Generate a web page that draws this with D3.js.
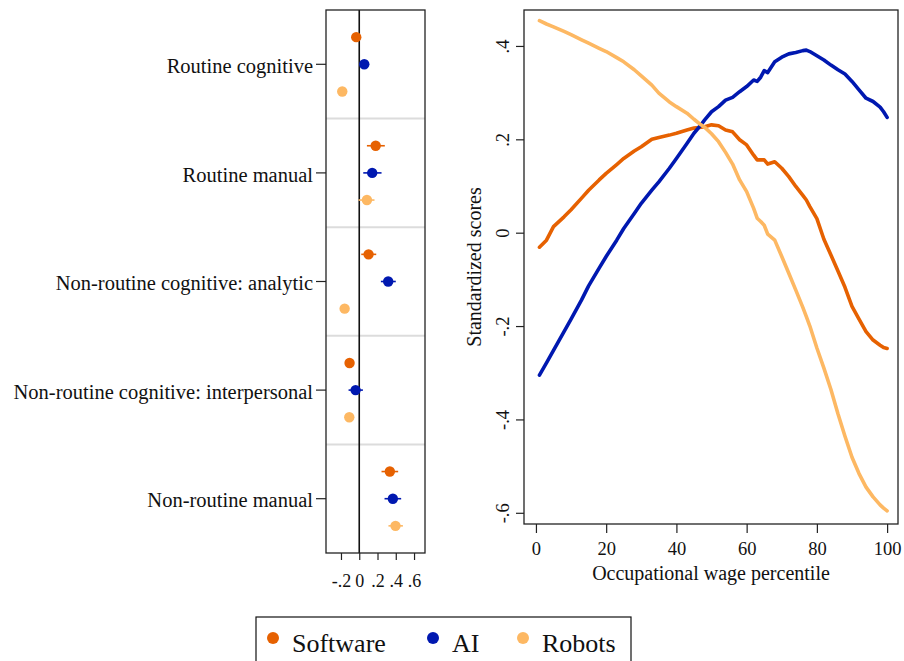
<!DOCTYPE html>
<html>
<head>
<meta charset="utf-8">
<script src="https://cdn.jsdelivr.net/npm/d3@7"></script>
<style>
  body { margin: 0; background: #fff; }
  svg text { font-family: "Liberation Serif", "Times New Roman", serif; fill: #111; }
</style>
</head>
<body>
<script>
// task categories (left panel)
var categories = ["Routine cognitive", "Routine manual", "Non-routine cognitive: analytic",
                  "Non-routine cognitive: interpersonal", "Non-routine manual"];
var seriesNames = ["Software", "AI", "Robots"];
var colors = ["#e66101", "#0018b0", "#fdb863"];

// point estimates and confidence bounds, one value per category
var softwareEst = [-0.033, 0.180, 0.102, -0.106, 0.335];
var softwareLo  = [-0.065, 0.084, 0.022, -0.155, 0.244];
var softwareHi  = [-0.001, 0.280, 0.186, -0.057, 0.426];
var aiEst = [0.055, 0.142, 0.317, -0.040, 0.368];
var aiLo  = [0.030, 0.044, 0.237, -0.117, 0.277];
var aiHi  = [0.080, 0.244, 0.400, 0.040, 0.459];
var robotsEst = [-0.186, 0.084, -0.160, -0.109, 0.397];
var robotsLo  = [-0.212, -0.008, -0.205, -0.157, 0.320];
var robotsHi  = [-0.160, 0.167, -0.115, -0.061, 0.478];
var leftTicks = [-0.2, 0, 0.2, 0.4, 0.6];

// right panel: standardized scores by occupational wage percentile
var pct = [1,3,5,8,10,13,15,18,20,23,25,28,30,33,35,38,40,43,45,47,48,50,52,54,56,58,60,62,63,64,65,66,68,70,72,74,76,77,78,80,82,84,86,88,90,92,94,96,98,99,100];
var software = [-0.031,-0.016,0.013,0.034,0.049,0.074,0.091,0.113,0.127,0.146,0.159,0.175,0.184,0.200,0.204,0.209,0.213,0.220,0.224,0.226,0.227,0.231,0.229,0.220,0.216,0.199,0.188,0.166,0.156,0.156,0.156,0.147,0.152,0.138,0.120,0.099,0.080,0.070,0.056,0.030,-0.014,-0.048,-0.082,-0.117,-0.158,-0.185,-0.212,-0.230,-0.241,-0.246,-0.248];
var ai = [-0.305,-0.279,-0.252,-0.212,-0.185,-0.144,-0.114,-0.076,-0.051,-0.016,0.009,0.041,0.063,0.091,0.109,0.138,0.159,0.191,0.213,0.231,0.241,0.259,0.270,0.284,0.290,0.302,0.313,0.327,0.324,0.333,0.347,0.343,0.366,0.376,0.383,0.386,0.390,0.391,0.388,0.379,0.370,0.359,0.349,0.340,0.324,0.306,0.288,0.281,0.269,0.259,0.247];
var robots = [0.454,0.447,0.441,0.431,0.424,0.413,0.406,0.395,0.388,0.375,0.366,0.349,0.336,0.316,0.299,0.280,0.270,0.256,0.243,0.231,0.226,0.212,0.195,0.172,0.147,0.113,0.088,0.052,0.031,0.024,0.016,-0.003,-0.016,-0.051,-0.087,-0.123,-0.160,-0.180,-0.200,-0.247,-0.290,-0.336,-0.388,-0.436,-0.481,-0.516,-0.545,-0.566,-0.583,-0.590,-0.596];
var xTicks = [0, 20, 40, 60, 80, 100];
var yTicks = [0.4, 0.2, 0, -0.2, -0.4, -0.6];

var W = 904, H = 661;
var svg = d3.select('body').append('svg').attr('width', W).attr('height', H);

// stata style labels: ".2", "-.4", "0"
function stataFmt(d) {
	if (Math.abs(d) < 1e-9) return "0";
	var s = Math.abs(d).toFixed(1).replace(/^0/, "");
	return (d < 0 ? "-" : "") + s;
}

//LEFT PANEL =================================================
var L = {x0: 326, x1: 425, y0: 10, y1: 553};
var lx = d3.scaleLinear().domain([-0.364, 0.72]).range([L.x0, L.x1]);
var ly = d3.scaleBand().domain(categories).range([L.y0, L.y1]);
var inner = d3.scalePoint().domain(seriesNames).range([0, ly.bandwidth()]).padding(1);

var left = svg.append('g');
// band separators
left.selectAll('line.sep').data(categories.slice(1))
	.enter().append('line')
	.attr('x1', L.x0).attr('x2', L.x1)
	.attr('y1', function(d){ return ly(d); })
	.attr('y2', function(d){ return ly(d); })
	.attr('stroke', '#dcdcdc').attr('stroke-width', 2);

// zero line
left.append('line')
	.attr('x1', lx(0)).attr('x2', lx(0)).attr('y1', L.y0).attr('y2', L.y1)
	.attr('stroke', '#111').attr('stroke-width', 1.6);

var leftSeries = [
	{name: "Software", est: softwareEst, lo: softwareLo, hi: softwareHi},
	{name: "AI", est: aiEst, lo: aiLo, hi: aiHi},
	{name: "Robots", est: robotsEst, lo: robotsLo, hi: robotsHi}
];
leftSeries.forEach(function(s, si){
	var pts = categories.map(function(c, i){
		return {cy: ly(c) + inner(s.name), est: s.est[i], lo: s.lo[i], hi: s.hi[i]};
	});
	var g = left.append('g');
	g.selectAll('line').data(pts).enter().append('line')
		.attr('x1', function(d){ return lx(d.lo); })
		.attr('x2', function(d){ return lx(d.hi); })
		.attr('y1', function(d){ return d.cy; })
		.attr('y2', function(d){ return d.cy; })
		.attr('stroke', colors[si]).attr('stroke-width', 1.6);
	g.selectAll('circle').data(pts).enter().append('circle')
		.attr('cx', function(d){ return lx(d.est); })
		.attr('cy', function(d){ return d.cy; })
		.attr('r', 5.2)
		.attr('fill', colors[si]);
});

left.append('rect')
	.attr('x', L.x0).attr('y', L.y0).attr('width', L.x1 - L.x0).attr('height', L.y1 - L.y0)
	.attr('fill', 'none').attr('stroke', '#222').attr('stroke-width', 1.3);

var lAxisY = left.append('g').attr('transform', 'translate(' + L.x0 + ',0)')
	.call(d3.axisLeft(ly).tickSize(10).tickPadding(3));
lAxisY.select('.domain').remove();
lAxisY.selectAll('text').attr('font-size', 20.5).attr('dy', '0.42em');
lAxisY.selectAll('line').attr('stroke', '#222').attr('stroke-width', 1.2);

var lAxisX = left.append('g').attr('transform', 'translate(0,' + L.y1 + ')')
	.call(d3.axisBottom(lx).tickValues(leftTicks).tickFormat(stataFmt).tickSize(7).tickPadding(14));
lAxisX.select('.domain').remove();
lAxisX.selectAll('text').attr('font-size', 18);
lAxisX.selectAll('line').attr('stroke', '#222').attr('stroke-width', 1.2);

//RIGHT PANEL =================================================
var R = {x0: 524, x1: 898, y0: 10, y1: 524};
var rx = d3.scaleLinear().domain([-3.4, 103.1]).range([R.x0, R.x1]);
var ry = d3.scaleLinear().domain([-0.624, 0.477]).range([R.y1, R.y0]);

var right = svg.append('g');
var lineGen = d3.line()
	.x(function(d){ return rx(d[0]); })
	.y(function(d){ return ry(d[1]); });

[software, ai, robots].forEach(function(vals, si){
	right.append('path')
		.datum(pct.map(function(p, i){ return [p, vals[i]]; }))
		.attr('d', lineGen)
		.attr('fill', 'none')
		.attr('stroke', colors[si])
		.attr('stroke-width', 3.6)
		.attr('stroke-linejoin', 'round')
		.attr('stroke-linecap', 'round');
});

right.append('rect')
	.attr('x', R.x0).attr('y', R.y0).attr('width', R.x1 - R.x0).attr('height', R.y1 - R.y0)
	.attr('fill', 'none').attr('stroke', '#222').attr('stroke-width', 1.3);

var rAxisX = right.append('g').attr('transform', 'translate(0,' + R.y1 + ')')
	.call(d3.axisBottom(rx).tickValues(xTicks).tickSize(9).tickPadding(9));
rAxisX.select('.domain').remove();
rAxisX.selectAll('text').attr('font-size', 18.5);
rAxisX.selectAll('line').attr('stroke', '#222').attr('stroke-width', 1.2);

var rAxisY = right.append('g').attr('transform', 'translate(' + R.x0 + ',0)')
	.call(d3.axisLeft(ry).tickValues(yTicks).tickFormat(stataFmt).tickSize(8));
rAxisY.select('.domain').remove();
rAxisY.selectAll('line').attr('stroke', '#222').attr('stroke-width', 1.2);
rAxisY.selectAll('text')
	.attr('font-size', 18.5)
	.attr('x', 0).attr('dy', 0)
	.attr('text-anchor', 'middle')
	.attr('transform', 'translate(-15,0) rotate(-90)');

right.append('text')
	.attr('x', (R.x0 + R.x1) / 2).attr('y', 580)
	.attr('text-anchor', 'middle').attr('font-size', 20)
	.text('Occupational wage percentile');

right.append('text')
	.attr('transform', 'translate(481,' + ((R.y0 + R.y1) / 2) + ') rotate(-90)')
	.attr('text-anchor', 'middle').attr('font-size', 20)
	.text('Standardized scores');

//LEGEND =================================================
var legend = svg.append('g');
legend.append('rect')
	.attr('x', 256).attr('y', 617).attr('width', 375).attr('height', 70)
	.attr('fill', 'none').attr('stroke', '#111').attr('stroke-width', 1.2);
var legX = [273, 433, 523];
seriesNames.forEach(function(n, i){
	legend.append('circle').attr('cx', legX[i]).attr('cy', 638).attr('r', 6).attr('fill', colors[i]);
	legend.append('text').attr('x', legX[i] + 19).attr('y', 652)
		.attr('font-size', 26).text(n);
});
</script>
</body>
</html>
